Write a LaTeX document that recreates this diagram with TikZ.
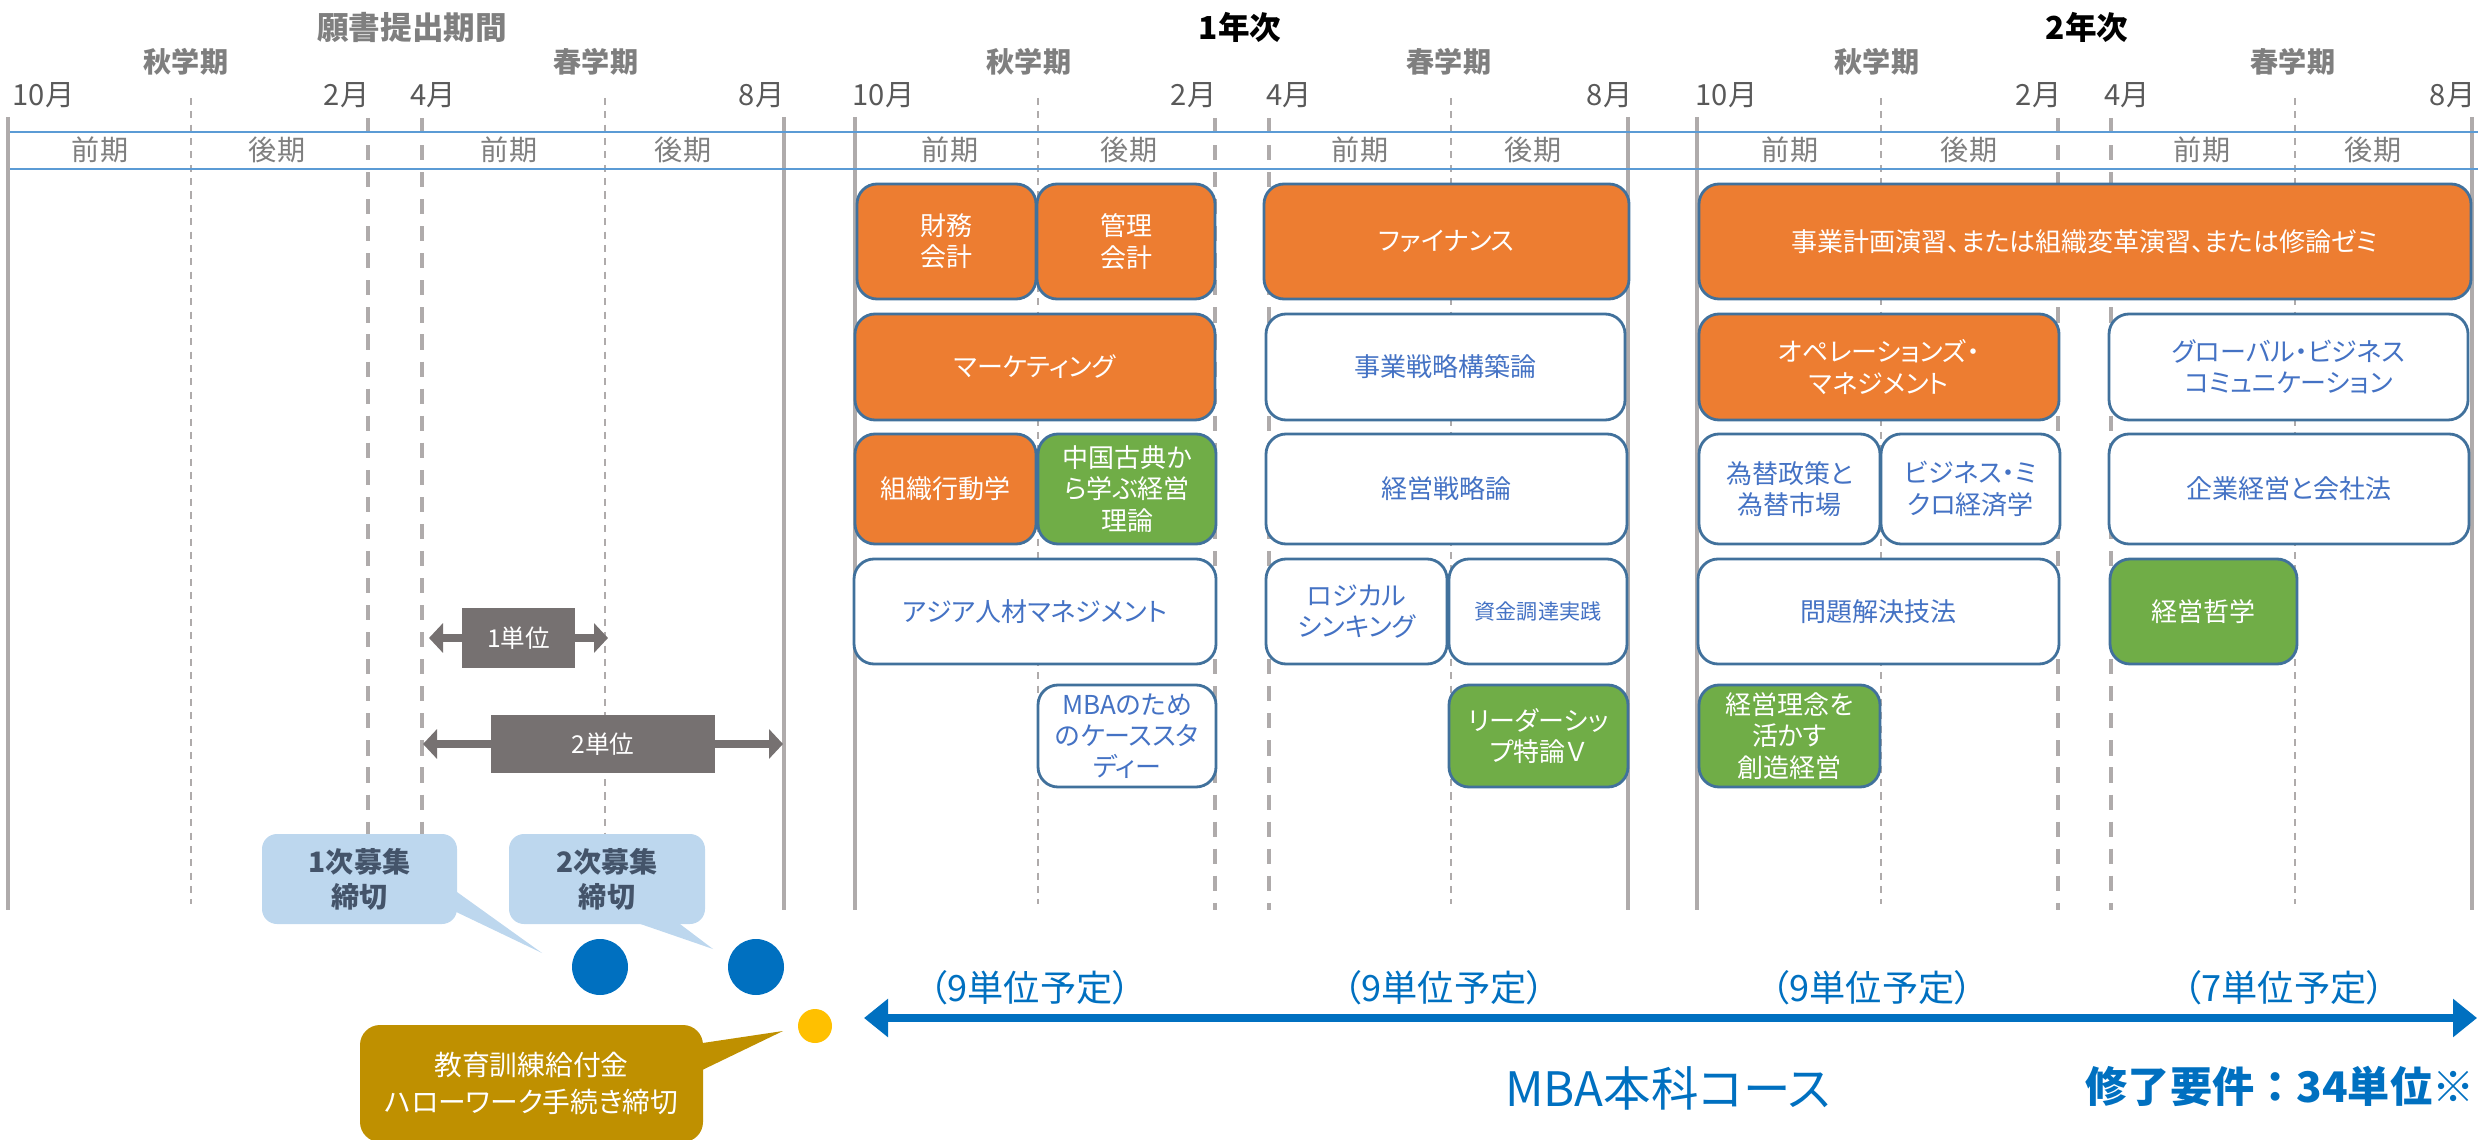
\documentclass[tikz,border=0pt]{standalone}
\usepackage{fontspec}
\setmainfont[RawFeature={+palt}]{Noto Sans CJK JP}
\newfontfamily\fullwidthfont{Noto Sans CJK JP}
\usetikzlibrary{arrows.meta}

\definecolor{gridgray}{HTML}{AFABAB}
\definecolor{termblue}{HTML}{5B9BD5}
\definecolor{monthgray}{HTML}{595959}
\definecolor{headgray}{HTML}{7F7F7F}
\definecolor{boxline}{HTML}{41719C}
\definecolor{coreorange}{HTML}{ED7D31}
\definecolor{specgreen}{HTML}{70AD47}
\definecolor{textblue}{HTML}{4472C4}
\definecolor{unitgray}{HTML}{767171}
\definecolor{calloutblue}{HTML}{BDD7EE}
\definecolor{callouttext}{HTML}{44546A}
\definecolor{dotblue}{HTML}{0070C0}
\definecolor{dotyellow}{HTML}{FFC000}
\definecolor{goldbox}{HTML}{BF9000}

\tikzstyle{solidline} = [draw=gridgray, line width=1.3pt]
\tikzstyle{halfline} = [draw=gridgray, line width=0.6pt, dash pattern=on 2pt off 1.8pt]
\tikzstyle{breakline} = [draw=gridgray, line width=1pt, dash pattern=on 4.3pt off 3.4pt]
\tikzstyle{termline} = [draw=termblue, line width=0.8pt]
\tikzstyle{month} = [inner sep=0pt, text=monthgray, font=\fontsize{8.3}{10}\selectfont]
\tikzstyle{term} = [inner sep=0pt, text=headgray, font=\bfseries\fontsize{8}{10}\selectfont]
\tikzstyle{half} = [inner sep=0pt, text=headgray, font=\fontsize{8}{10}\selectfont]
\tikzstyle{year} = [inner sep=0pt, text=black, font=\bfseries\fontsize{9}{11}\selectfont]
\tikzstyle{course} = [rectangle, draw=boxline, line width=0.8pt, rounded corners=2mm,
    align=center, inner sep=0pt, font=\fontsize{7.4}{8.9}\selectfont]
\tikzstyle{core} = [course, fill=coreorange, text=white]
\tikzstyle{elective} = [course, fill=white, text=textblue]
\tikzstyle{special} = [course, fill=specgreen, text=white]
\tikzstyle{unitbox} = [rectangle, fill=unitgray, text=white, inner sep=0pt,
    font=\fontsize{7}{8}\selectfont]
\tikzstyle{unitspan} = [draw=unitgray, line width=2pt,
    {Triangle[length=1.4mm,width=2.9mm]}-{Triangle[length=1.4mm,width=2.9mm]}]
\tikzstyle{calloutbox} = [rectangle, rounded corners=1.5mm, fill=calloutblue, text=callouttext,
    align=center, inner sep=0pt, font=\bfseries\fontsize{8}{10}\selectfont]
\tikzstyle{goldcallout} = [rectangle, rounded corners=2mm, fill=goldbox, text=white,
    align=center, inner sep=0pt, font=\fontsize{7.9}{10.5}\selectfont]
\tikzstyle{deadline} = [circle, fill=dotblue, inner sep=0pt, minimum size=5.6mm]
\tikzstyle{subsidydot} = [circle, fill=dotyellow, inner sep=0pt, minimum size=3.4mm]
\tikzstyle{coursespan} = [draw=dotblue, line width=2.3pt,
    {Triangle[length=2.4mm,width=3.7mm]}-{Triangle[length=2.4mm,width=3.7mm]}]
\tikzstyle{credits} = [inner sep=0pt, text=dotblue, font=\fontsize{10.3}{12}\selectfont]

\begin{document}
\begin{tikzpicture}[x=0.1mm, y=-0.1mm]
    \useasboundingbox (0,0) rectangle (2478,1140);

    % Draw vertical grid lines
    \draw [solidline] (8,117) -- (8,910);
    \draw [halfline] (191,98) -- (191,904);
    \draw [breakline] (368,118) -- (368,910);
    \draw [breakline] (422,118) -- (422,910);
    \draw [halfline] (605,98) -- (605,904);
    \draw [solidline] (784,117) -- (784,910);

    \draw [solidline] (855,117) -- (855,910);
    \draw [halfline] (1038,98) -- (1038,904);
    \draw [breakline] (1215,118) -- (1215,910);
    \draw [breakline] (1269,118) -- (1269,910);
    \draw [halfline] (1451,98) -- (1451,904);
    \draw [solidline] (1628,117) -- (1628,910);

    \draw [solidline] (1697,117) -- (1697,910);
    \draw [halfline] (1881,98) -- (1881,904);
    \draw [breakline] (2058,118) -- (2058,910);
    \draw [breakline] (2111,118) -- (2111,910);
    \draw [halfline] (2295,98) -- (2295,904);
    \draw [solidline] (2472,117) -- (2472,910);

    % Draw term band
    \draw [termline] (10,132) -- (2478,132);
    \draw [termline] (10,169) -- (2478,169);

    % Place year headings
    \node [term, font=\bfseries\fontsize{9}{11}\selectfont] (apply) at (412,27) {願書提出期間};
    \node [year] (year1) at (1240,27) {1年次};
    \node [year] (year2) at (2087,27) {2年次};

    % Place semester headings
    \node [term] (aut0) at (186,62) {秋学期};
    \node [term] (spr0) at (596,62) {春学期};
    \node [term] (aut1) at (1029,62) {秋学期};
    \node [term] (spr1) at (1449,62) {春学期};
    \node [term] (aut2) at (1877,62) {秋学期};
    \node [term] (spr2) at (2293,62) {春学期};

    % Place months
    \node [month, anchor=west] (oct0) at (12,95) {10月};
    \node [month, anchor=east] (feb0) at (370,95) {2月};
    \node [month, anchor=west] (apr0) at (410,95) {4月};
    \node [month, anchor=east] (aug0) at (785,95) {8月};
    \node [month, anchor=west] (oct1) at (852,95) {10月};
    \node [month, anchor=east] (feb1) at (1217,95) {2月};
    \node [month, anchor=west] (apr1) at (1266,95) {4月};
    \node [month, anchor=east] (aug1) at (1633,95) {8月};
    \node [month, anchor=west] (oct2) at (1695,95) {10月};
    \node [month, anchor=east] (feb2) at (2062,95) {2月};
    \node [month, anchor=west] (apr2) at (2104,95) {4月};
    \node [month, anchor=east] (aug2) at (2476,95) {8月};

    % Place half terms
    \node [half] (h01) at (100,150) {前期};
    \node [half] (h02) at (277,150) {後期};
    \node [half] (h03) at (509,150) {前期};
    \node [half] (h04) at (683,150) {後期};
    \node [half] (h11) at (950,150) {前期};
    \node [half] (h12) at (1129,150) {後期};
    \node [half] (h13) at (1360,150) {前期};
    \node [half] (h14) at (1533,150) {後期};
    \node [half] (h21) at (1790,150) {前期};
    \node [half] (h22) at (1969,150) {後期};
    \node [half] (h23) at (2202,150) {前期};
    \node [half] (h24) at (2373,150) {後期};

    % Place courses, first year
    \node [core, minimum width=17.9mm, minimum height=11.5mm] (zaimu) at (946.5,241.5) {財務\\会計};
    \node [core, minimum width=17.8mm, minimum height=11.5mm] (kanri) at (1126,241.5) {管理\\会計};
    \node [core, minimum width=36.5mm, minimum height=11.5mm] (finance) at (1446.5,241.5) {ファイナンス};
    \node [core, minimum width=36.0mm, minimum height=10.6mm] (marketing) at (1035,367) {マーケティング};
    \node [elective, minimum width=35.9mm, minimum height=10.6mm] (kouchiku) at (1445.5,367) {事業戦略構築論};
    \node [core, minimum width=18.1mm, minimum height=11.0mm] (soshiki) at (945.5,489) {組織行動学};
    \node [special, minimum width=17.8mm, minimum height=11.0mm] (koten) at (1127,489) {中国古典か\\ら学ぶ経営\\理論};
    \node [elective, minimum width=36.1mm, minimum height=11.0mm] (senryaku) at (1446.5,489) {経営戦略論};
    \node [elective, minimum width=36.2mm, minimum height=10.5mm] (asia) at (1035,611.5) {アジア人材マネジメント};
    \node [elective, minimum width=18.1mm, minimum height=10.5mm] (logical) at (1356.5,611.5) {ロジカル\\シンキング};
    \node [elective, minimum width=17.8mm, minimum height=10.5mm, font=\fontsize{6}{7}\selectfont] (shikin) at (1538,611.5) {資金調達実践};
    \node [elective, minimum width=17.8mm, minimum height=10.2mm] (casestudy) at (1127,736) {MBAのため\\のケーススタ\\ディー};
    \node [special, minimum width=17.9mm, minimum height=10.2mm] (leader) at (1538.5,736) {リーダーシッ\\プ特論Ｖ};

    % Place courses, second year
    \node [core, minimum width=77.2mm, minimum height=11.5mm] (keikaku) at (2085,241.5) {事業計画演習、または組織変革演習、または修論ゼミ};
    \node [core, minimum width=36.0mm, minimum height=10.6mm] (operations) at (1879,367) {オペレーションズ・\\マネジメント};
    \node [elective, minimum width=35.9mm, minimum height=10.6mm] (global) at (2288.5,367) {グローバル・ビジネス\\コミュニケーション};
    \node [elective, minimum width=18.1mm, minimum height=11.0mm] (kawase) at (1789.5,489) {為替政策と\\為替市場};
    \node [elective, minimum width=17.9mm, minimum height=11.0mm] (micro) at (1970.5,489) {ビジネス・ミ\\クロ経済学};
    \node [elective, minimum width=36.0mm, minimum height=11.0mm] (kaisha) at (2289,489) {企業経営と会社法};
    \node [elective, minimum width=36.1mm, minimum height=10.5mm] (mondai) at (1878.5,611.5) {問題解決技法};
    \node [special, minimum width=18.7mm, minimum height=10.5mm] (tetsugaku) at (2203.5,611.5) {経営哲学};
    \node [special, minimum width=18.1mm, minimum height=10.2mm] (rinen) at (1789.5,736) {経営理念を\\活かす\\創造経営};

    % Place credit legend
    \coordinate (u1l) at (429,638);
    \coordinate (u1r) at (608,638);
    \path [unitspan] (u1l) -- (u1r);
    \node [unitbox, minimum width=11.3mm, minimum height=6.0mm] (unit1) at (518.5,638) {1単位};
    \coordinate (u2l) at (423,744);
    \coordinate (u2r) at (783,744);
    \path [unitspan] (u2l) -- (u2r);
    \node [unitbox, minimum width=22.4mm, minimum height=5.8mm] (unit2) at (603,744) {2単位};

    % Place deadlines
    \node [deadline] (dot1) at (600,967) {};
    \node [deadline] (dot2) at (756,967) {};
    \node [subsidydot] (dot3) at (815,1026) {};
    \coordinate (tip1) at (542,953);
    \coordinate (tip2) at (713,949);
    \coordinate (tip3) at (783,1031);
    \fill [calloutblue] (450,887) -- (tip1) -- (450,909) -- cycle;
    \fill [calloutblue] (623,918) -- (tip2) -- (672,918) -- cycle;
    \fill [goldbox] (696,1044) -- (tip3) -- (696,1073) -- cycle;
    \node [calloutbox, minimum width=19.5mm, minimum height=9.0mm] (call1) at (359.5,879) {1次募集\\締切};
    \node [calloutbox, minimum width=19.6mm, minimum height=9.0mm] (call2) at (607,879) {2次募集\\締切};
    \node [goldcallout, minimum width=34.3mm, minimum height=11.7mm] (subsidy) at (531.5,1083.5) {教育訓練給付金\\ハローワーク手続き締切};

    % Place course span
    \coordinate (mbaL) at (864,1018);
    \coordinate (mbaR) at (2477,1018);
    \path [coursespan] (mbaL) -- (mbaR);
    \node [credits] (cr1) at (1030,988) {（9単位予定）};
    \node [credits] (cr2) at (1444,988) {（9単位予定）};
    \node [credits] (cr3) at (1872,988) {（9単位予定）};
    \node [credits] (cr4) at (2284,988) {（7単位予定）};
    \node [inner sep=0pt, text=dotblue, font=\fontsize{13.5}{16}\selectfont] (mba) at (1668,1088) {MBA本科コース};
    \node [inner sep=0pt, text=dotblue, font=\fullwidthfont\bfseries\fontsize{12}{14}\selectfont] (require) at (2280,1086) {修了要件：34単位※};

\end{tikzpicture}
\end{document}
